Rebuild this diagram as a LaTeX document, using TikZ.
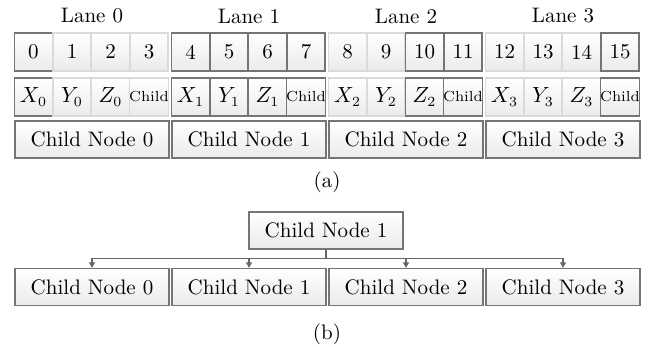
\documentclass[tikz,border=0pt]{standalone}
\usetikzlibrary{arrows.meta}
\definecolor{darkb}{HTML}{757575}
\definecolor{lightb}{HTML}{DADADA}
\definecolor{linec}{HTML}{666666}
\tikzset{
  cellbase/.style={rectangle, inner sep=0pt, top color=white, bottom color=black!8, line width=0.6pt, font=\fontsize{10.5}{12}\selectfont},
  dk/.style={cellbase, draw=darkb},
  lt/.style={cellbase, draw=lightb},
  cellsz/.style={minimum width=19pt, minimum height=19pt},
  widebox/.style={dk, minimum width=77pt, minimum height=18.5pt},
  small/.style={font=\fontsize{7.3}{8}\selectfont},
  lbl/.style={font=\fontsize{10.5}{12}\selectfont, inner sep=0pt},
  link/.style={draw=linec, line width=0.6pt},
  arr/.style={link, -{Triangle[length=2.8pt,width=3pt]}}
}
\begin{document}
\begin{tikzpicture}[x=0.5pt, y=-0.5pt]
\useasboundingbox (0,0) rectangle (648,347);
% lane labels
\foreach \i in {0,...,3}{
  \node[lbl] (L\i) at ({92+157*\i},16) {Lane \i};
}
% top row cells
\foreach \i/\s in {0/dk,1/lt,2/lt,3/lt,4/dk,5/dk,6/dk,7/dk,8/lt,9/lt,10/dk,11/dk,12/lt,13/lt,14/lt,15/dk}{
  \pgfmathtruncatemacro{\ln}{int(\i/4)}
  \pgfmathtruncatemacro{\k}{\i-4*\ln}
  \node[\s, cellsz] (c\i) at ({14.5+157*\ln+38.5*\k+19},52) {\i};
}
% data row
\foreach \i/\s/\t in {0/dk/$X_0$,1/lt/$Y_0$,2/lt/$Z_0$,4/dk/$X_1$,5/dk/$Y_1$,6/dk/$Z_1$,8/lt/$X_2$,9/lt/$Y_2$,10/dk/$Z_2$,12/lt/$X_3$,13/lt/$Y_3$,14/lt/$Z_3$}{
  \pgfmathtruncatemacro{\ln}{int(\i/4)}
  \pgfmathtruncatemacro{\k}{\i-4*\ln}
  \node[\s, cellsz] (d\i) at ({14.5+157*\ln+38.5*\k+19},97) {\t};
}
\foreach \i/\s in {3/lt,7/dk,11/dk,15/dk}{
  \pgfmathtruncatemacro{\ln}{int(\i/4)}
  \node[\s, cellsz, small] (d\i) at ({14.5+157*\ln+115.5+19},97) {Child};
}
% child nodes (a)
\foreach \i in {0,...,3}{
  \node[widebox] (n\i) at ({92+157*\i},139.5) {Child Node \i};
}
\node[lbl] (capa) at (327,182) {(a)};
% (b)
\node[widebox] (p) at (326,230.5) {Child Node 1};
\foreach \i in {0,...,3}{
  \node[widebox] (m\i) at ({92+157*\i},287) {Child Node \i};
}
\path (p.south) ++(0,9) coordinate (j);
\draw[link] (p.south) -- (j);
\foreach \i in {0,...,3}{
  \draw[arr] (j) -| (m\i.north);
}
\node[lbl] (capb) at (327,334) {(b)};
\end{tikzpicture}
\end{document}
